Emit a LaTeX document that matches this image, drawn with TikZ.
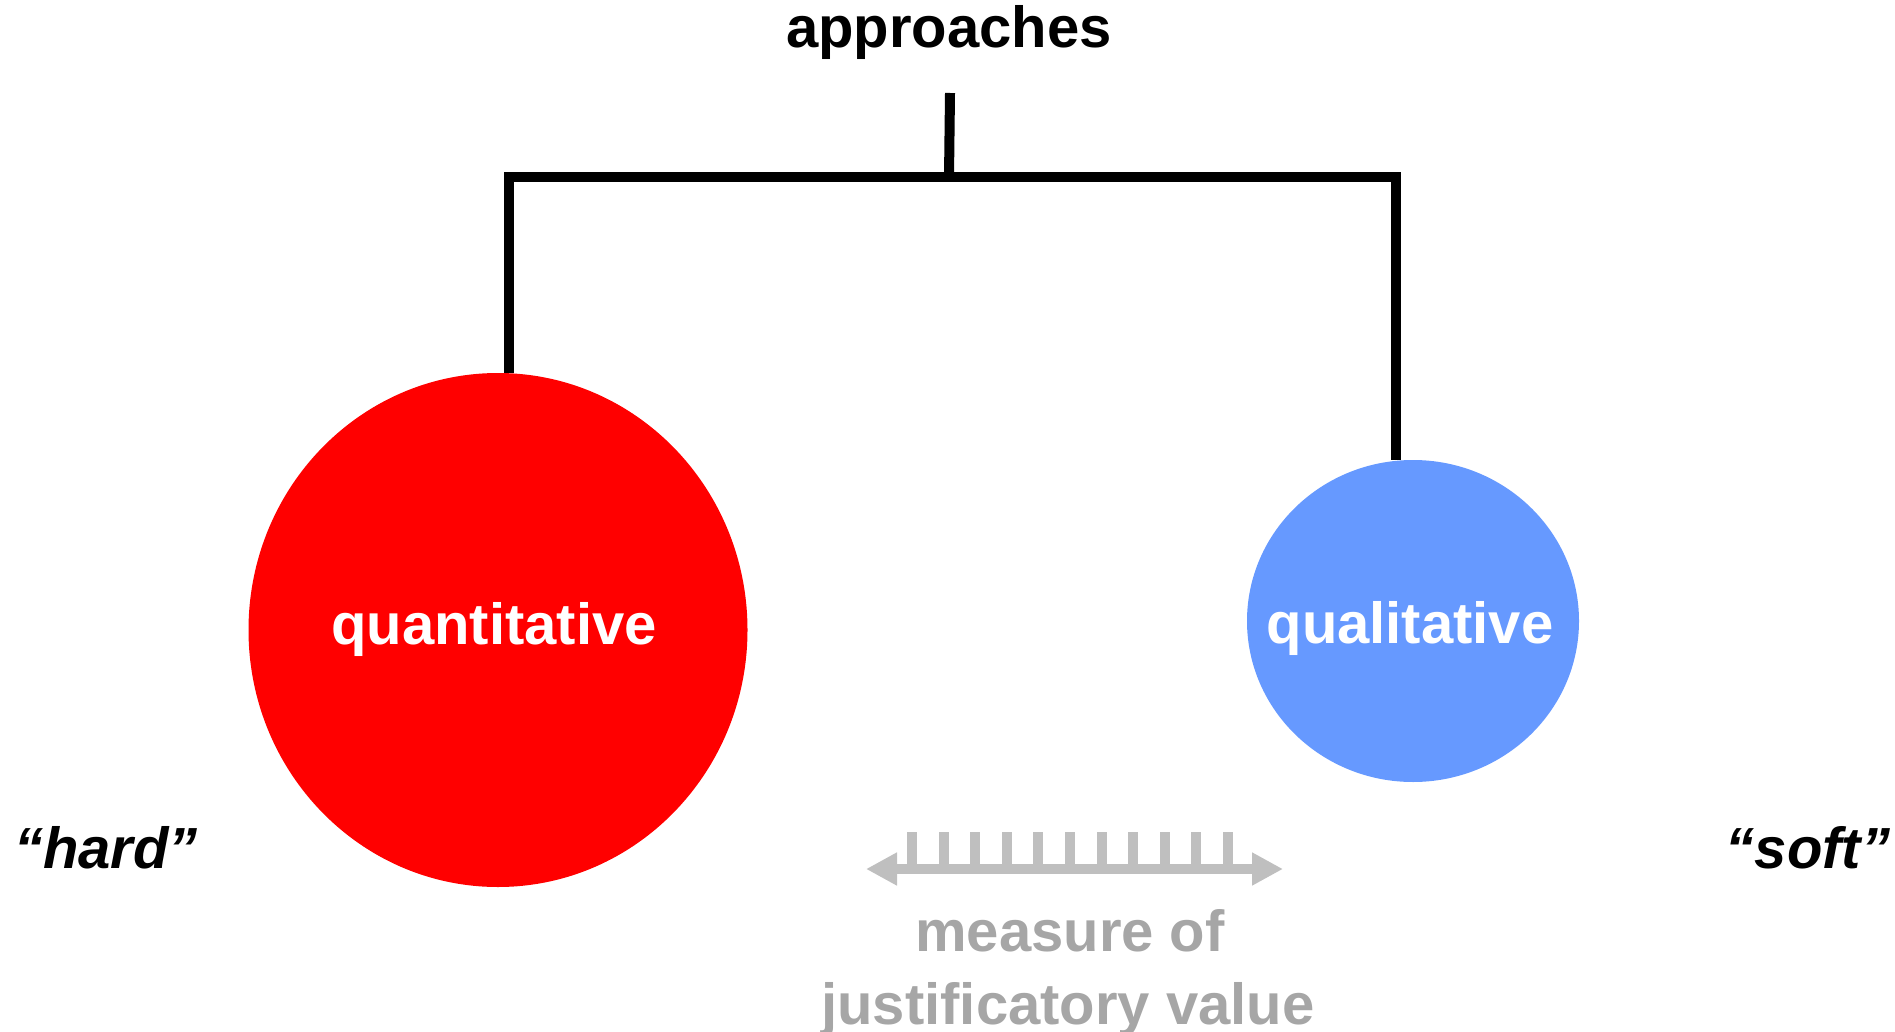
\documentclass[tikz,border=0pt]{standalone}
\usepackage{fontspec}
\setmainfont{Liberation Sans}
\usetikzlibrary{shapes.geometric,arrows.meta}
\definecolor{quantred}{RGB}{255,0,0}
\definecolor{qualblue}{RGB}{102,153,255}
\definecolor{rulegray}{RGB}{191,191,191}
\definecolor{textgray}{RGB}{166,166,166}
\tikzset{
	big/.style={font=\fontsize{58}{70}\selectfont\bfseries},
	bigit/.style={font=\fontsize{58}{70}\selectfont\bfseries\itshape},
	blob/.style={ellipse, inner sep=0pt},
	inblob/.style={big, text=white, inner sep=0pt},
	bracket/.style={line width=10pt},
	ruler/.style={rulegray, line width=10pt},
}
\begin{document}
\begin{tikzpicture}[x=1pt,y=-1pt]
	\useasboundingbox (0,0) rectangle (1895,1032);
	\node (top) at (949,48) [big, anchor=base] {approaches};
	\node (quant) at (498,630) [blob, fill=quantred, minimum width=499pt, minimum height=514pt,
		label={[inblob, name=quanttxt, xshift=-4pt]center:quantitative}] {};
	\node (qual) at (1413,621) [blob, fill=qualblue, minimum width=332pt, minimum height=322pt,
		label={[inblob, name=qualtxt, yshift=-7pt, xshift=-3pt]center:qualitative}] {};
	\node (hard) at (106,868) [bigit, anchor=base] {“hard”};
	\node (soft) at (1808,868) [bigit, anchor=base] {“soft”};
	\node (meas) at (1070,951) [big, text=textgray, anchor=base] {measure of};
	\node (just) at (1068,1024) [big, text=textgray, anchor=base] {justificatory value};
	% bracket
	\coordinate (stub) at (950,93);
	\coordinate (join) at (949,177);
	\coordinate (barL) at (509,177);
	\coordinate (barR) at (1396,177);
	\draw[bracket] (stub) -- (join);
	\draw[bracket] (quant.north -| barL) -- (barL) -- (barR) -- (qual.north -| barR);
	% ruler
	\coordinate (rl) at (866,869);
	\coordinate (rr) at (1283,869);
	\draw[ruler, {Triangle[length=31pt,width=31pt]}-{Triangle[length=31pt,width=31pt]}] (rl) -- (rr);
	\foreach \k in {0,...,10}
		\draw[ruler] (912+31.6*\k,832) -- (912+31.6*\k,869);
\end{tikzpicture}
\end{document}
